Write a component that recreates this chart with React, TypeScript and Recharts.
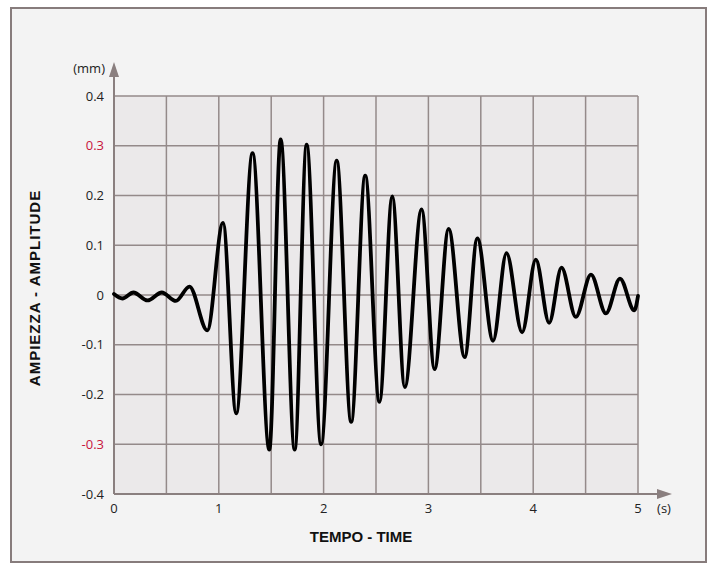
import React from "react";
import { LineChart, Line, XAxis, YAxis, CartesianGrid, ReferenceLine } from "recharts";

// time (s) of each turning point of the trace
const times = [
  0, 0.08, 0.185, 0.32, 0.456, 0.59, 0.72, 0.89, 1.04, 1.166, 1.322, 1.482, 1.59, 1.724,
  1.838, 1.976, 2.125, 2.263, 2.397, 2.533, 2.655, 2.775, 2.935, 3.059, 3.193, 3.346,
  3.467, 3.617, 3.745, 3.894, 4.025, 4.152, 4.27, 4.407, 4.551, 4.694, 4.828, 4.965, 5.0,
];
// amplitude (mm) at those points
const amplitudes = [
  0.002, -0.007, 0.005, -0.011, 0.005, -0.012, 0.017, -0.071, 0.145, -0.238, 0.285, -0.311,
  0.313, -0.311, 0.302, -0.3, 0.27, -0.255, 0.24, -0.215, 0.198, -0.185, 0.172, -0.149,
  0.133, -0.125, 0.114, -0.092, 0.084, -0.075, 0.071, -0.056, 0.055, -0.044, 0.041,
  -0.037, 0.033, -0.031, -0.002,
];
const xTicks = [0, 0.5, 1, 1.5, 2, 2.5, 3, 3.5, 4, 4.5, 5];
const xLabels = ["0", "", "1", "", "2", "", "3", "", "4", "", "5"];
const yTicks = [-0.4, -0.3, -0.2, -0.1, 0, 0.1, 0.2, 0.3, 0.4];
const yLabels = ["-0.4", "-0.3", "-0.2", "-0.1", "0", "0.1", "0.2", "0.3", "0.4"];
const redTicks = [-0.3, 0.3];

const data = times.map((t, i) => ({ t, a: amplitudes[i] }));

const AXIS = "#8a7f7f";
const GRID = "#948a8a";
const TXT = "#222";
const RED = "#c8143c";
const TICKFONT = "'Open Sans', 'Noto Sans', sans-serif";
const TITLEFONT = "'Liberation Sans', Arial, sans-serif";

const YTick = (p: any) => {
  const v = p.payload.value;
  const i = yTicks.indexOf(v);
  return (
    <text x={p.x} y={p.y} dy="0.355em" textAnchor="end" fontSize={13} fontFamily={TICKFONT}
      fill={redTicks.includes(v) ? RED : TXT}>
      {yLabels[i]}
    </text>
  );
};

const XTick = (p: any) => {
  const i = xTicks.indexOf(p.payload.value);
  return (
    <text x={p.x} y={p.y} dy="0.71em" textAnchor="middle" fontSize={13} fontFamily={TICKFONT} fill={TXT}>
      {xLabels[i]}
    </text>
  );
};

const XArrow = (p: any) => {
  const x1 = Math.min(p.x1, p.x2);
  const x2 = Math.max(p.x1, p.x2);
  const y = p.y1;
  return (
    <g>
      <line x1={x1} y1={y} x2={x2 + 20} y2={y} stroke={AXIS} strokeWidth={2} />
      <polygon points={`${x2 + 19},${y - 5} ${x2 + 34},${y} ${x2 + 19},${y + 5}`} fill={AXIS} />
      <text x={x2 + 26} y={y + 10} dy="0.71em" textAnchor="middle" fontSize={13} fontFamily={TICKFONT} fill={TXT}>
        (s)
      </text>
    </g>
  );
};

const YArrow = (p: any) => {
  const yTop = Math.min(p.y1, p.y2);
  const yBot = Math.max(p.y1, p.y2);
  const x = p.x1;
  return (
    <g>
      <line x1={x} y1={yBot} x2={x} y2={yTop - 20} stroke={AXIS} strokeWidth={2} />
      <polygon points={`${x - 5},${yTop - 19} ${x},${yTop - 34} ${x + 5},${yTop - 19}`} fill={AXIS} />
      <text x={x - 9} y={yTop - 28} dy="0.355em" textAnchor="end" fontSize={13} fontFamily={TICKFONT} fill={TXT}>
        (mm)
      </text>
    </g>
  );
};

export default function App() {
  return (
    <div style={{ position: "absolute", left: 0, top: 0, width: 718, height: 564, background: "#fff" }}>
      <div
        style={{
          position: "absolute", left: 10, top: 7, width: 697, height: 556,
          boxSizing: "border-box", border: "2px solid #877c7c", background: "#f3f3f3",
        }}
      />
      <div style={{ position: "absolute", left: 0, top: 0 }}>
        <LineChart width={718} height={564} data={data} margin={{ top: 96, right: 80, bottom: 40, left: 54 }}>
          <CartesianGrid fill="#ebe9ea" stroke={GRID} strokeWidth={1.5} />
          <XAxis
            dataKey="t" type="number" domain={[0, 5]} ticks={xTicks} interval={0}
            axisLine={false} tickLine={false} tickSize={0} tickMargin={10} height={30}
            tick={<XTick />}
            label={{
              content: (lp: any) => {
                const vb = lp.viewBox;
                return (
                  <text x={vb.x + vb.width / 2 - 15} y={vb.y + 48} textAnchor="middle"
                    fontSize={15} fontWeight="bold" fontFamily={TITLEFONT} fill="#111">
                    TEMPO - TIME
                  </text>
                );
              },
            }}
          />
          <YAxis
            type="number" domain={[-0.4, 0.4]} ticks={yTicks} interval={0}
            axisLine={false} tickLine={false} tickSize={0} tickMargin={10} width={60}
            tick={<YTick />}
            label={{
              content: (lp: any) => {
                const vb = lp.viewBox;
                const cy = vb.y + vb.height / 2 - 7;
                return (
                  <text x={35} y={cy} transform={`rotate(-90 35 ${cy})`} textAnchor="middle" dy="0.355em"
                    fontSize={15} fontWeight="bold" letterSpacing={1} fontFamily={TITLEFONT} fill="#111">
                    AMPIEZZA - AMPLITUDE
                  </text>
                );
              },
            }}
          />
          <ReferenceLine y={-0.4} ifOverflow="visible" shape={<XArrow />} />
          <ReferenceLine x={0} ifOverflow="visible" shape={<YArrow />} />
          <Line
            type="monotone" dataKey="a" stroke="#000" strokeWidth={3.8} dot={false}
            isAnimationActive={false} strokeLinejoin="round" strokeLinecap="round"
          />
        </LineChart>
      </div>
    </div>
  );
}
